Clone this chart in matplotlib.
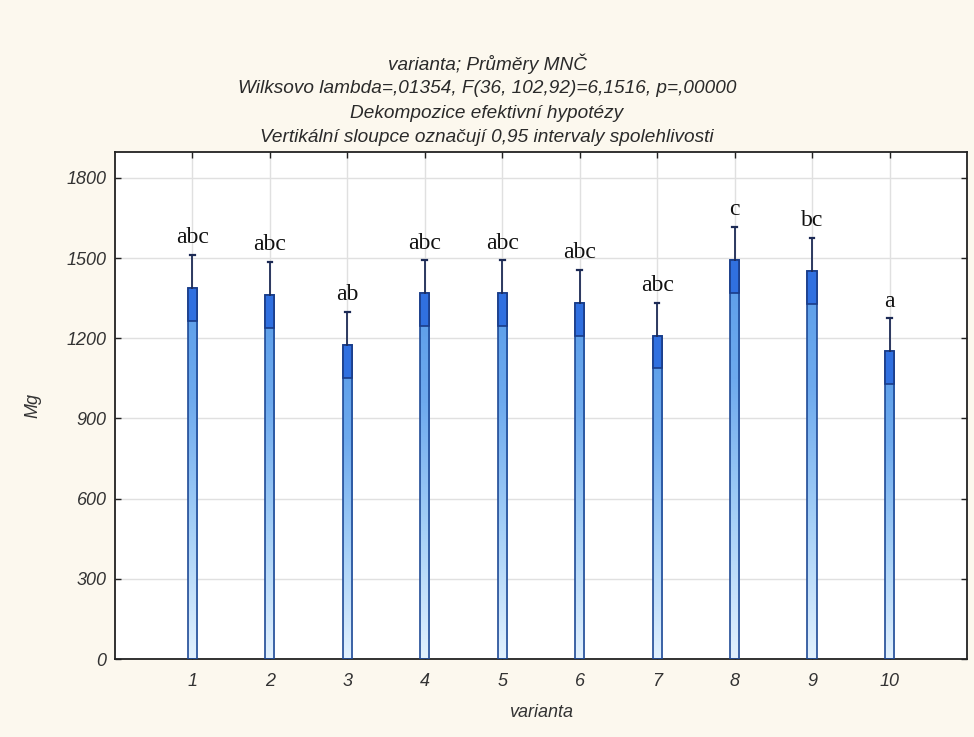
import numpy as np
import matplotlib.pyplot as plt
from matplotlib.colors import LinearSegmentedColormap
from matplotlib.patches import Rectangle

# LS means of Mg per variant, 0.95 CI half-widths and homogeneous-group letters
varianta = [1, 2, 3, 4, 5, 6, 7, 8, 9, 10]
mg_mean = [1387, 1362, 1175, 1368, 1368, 1333, 1210, 1493, 1451, 1151]
mg_ci = [123, 123, 123, 123, 123, 123, 123, 123, 123, 123]
groups = ['abc', 'abc', 'ab', 'abc', 'abc', 'abc', 'abc', 'c', 'bc', 'a']

title_lines = [
    'varianta; Průměry MNČ',
    'Wilksovo lambda=,01354, F(36, 102,92)=6,1516, p=,00000',
    'Dekompozice efektivní hypotézy',
    'Vertikální sloupce označují 0,95 intervaly spolehlivosti',
]

plt.rcParams['font.family'] = ['Liberation Sans', 'DejaVu Sans']

bg = '#fcf8ee'
edge = '#1f4a96'
bar_w = 0.12

fig = plt.figure(figsize=(9.74, 7.37), dpi=100, facecolor=bg)
ax = fig.add_axes([0.118, 0.1058, 0.8748, 0.688])
ax.set_facecolor('white')

# vertical gradient used as bar fill (light at the base, darker at the top)
grad_cmap = LinearSegmentedColormap.from_list(
    'bar', [(0, '#e2f1fe'), (0.35, '#a6d0f7'), (0.7, '#6eaaee'), (1, '#5a9de9')])
grad = np.linspace(0, 1, 256).reshape(-1, 1)

for x, m, ci, g in zip(varianta, mg_mean, mg_ci, groups):
    ax.imshow(grad, cmap=grad_cmap, aspect='auto', origin='lower',
              extent=[x - bar_w / 2, x + bar_w / 2, 0, m], zorder=2)
    ax.add_patch(Rectangle((x - bar_w / 2, 0), bar_w, m, fill=False,
                           edgecolor=edge, lw=1.2, zorder=3))
    # lower half of the interval drawn as a darker box inside the bar
    ax.add_patch(Rectangle((x - bar_w / 2, m - ci), bar_w, ci, facecolor='#3070e0',
                           edgecolor='#1a3c88', lw=1.2, zorder=4))
    # upper half as a whisker with a small cap
    ax.plot([x, x], [m, m + ci], color='#1c2a55', lw=1.3, zorder=4)
    ax.plot([x - 0.03, x + 0.03], [m + ci, m + ci], color='#1c2a55', lw=1.6, zorder=4)
    ax.annotate(g, (x, m + ci), xytext=(0, 5), textcoords='offset points',
                ha='center', va='bottom', family='Liberation Serif', fontsize=17,
                color='#111111', zorder=5)

ax.set_xlim(0, 11)
ax.set_ylim(0, 1897)
ax.set_xticks(varianta)
ax.set_yticks(range(0, 1801, 300))
ax.grid(True, color='#e0e0e0', lw=1, zorder=0)
ax.set_axisbelow(True)

for s in ax.spines.values():
    s.set_color('#222222')
    s.set_linewidth(1.3)

ax.tick_params(axis='both', direction='in', length=4, width=1, color='#222222',
               labelsize=13, labelcolor='#333333')
ax.tick_params(axis='x', pad=10, top=True)
ax.tick_params(axis='y', pad=6, right=True)
for lab in ax.get_xticklabels() + ax.get_yticklabels():
    lab.set_fontstyle('italic')

ax.set_xlabel('varianta', fontsize=13, fontstyle='italic', color='#333333', labelpad=10)
ax.set_ylabel('Mg', fontsize=13, fontstyle='italic', color='#333333', labelpad=18)

for i, line in enumerate(title_lines):
    fig.text(0.5, 1 - (64 + 24.5 * i) / 737, line, ha='center', va='center',
             fontsize=13.7, fontstyle='italic', color='#2a2a2a')

fig.savefig('out.png', dpi=100, facecolor=bg)
